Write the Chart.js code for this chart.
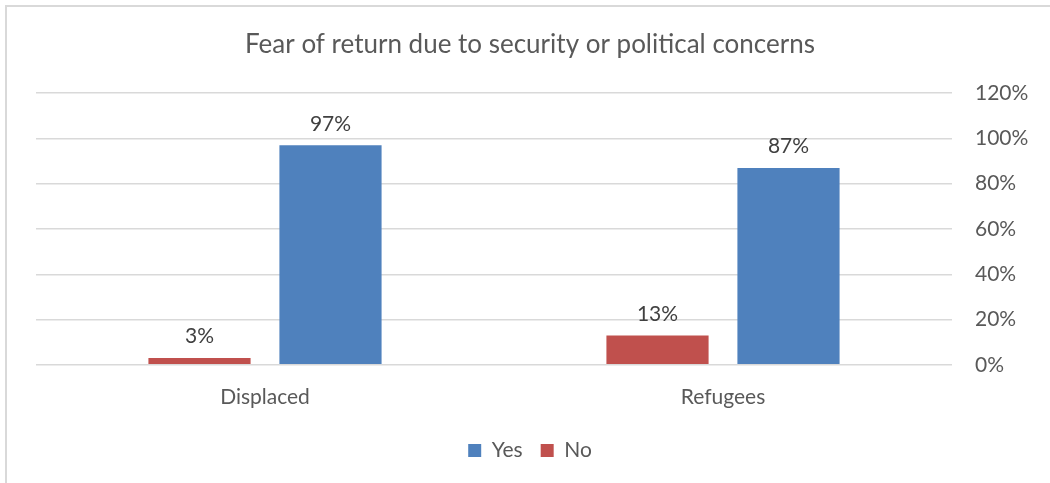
<!DOCTYPE html>
<html>
<head>
<meta charset="utf-8">
<script src="https://cdn.jsdelivr.net/npm/chart.js@4/dist/chart.umd.min.js"></script>
<style>
  html, body { margin: 0; padding: 0; background: #fff; }
  #frame {
    position: absolute; left: 5px; top: 5px;
    width: 1060px; height: 490px;
    border: 2px solid #d9d9d9; box-sizing: border-box;
  }
  #wrap { position: absolute; left: 0; top: 0; width: 1050px; height: 483px; }
</style>
</head>
<body>
<div id="frame"></div>
<div id="wrap"><canvas id="chart" width="1050" height="483"></canvas></div>
<script>
const categories = ["Displaced", "Refugees"];
const noValues = [3, 13];
const yesValues = [97, 87];
const yTicks = [0, 20, 40, 60, 80, 100, 120];

const FONT = "Lato, 'Open Sans', sans-serif";

// writes the percentage above each bar
const valueLabels = {
  id: "valueLabels",
  afterDatasetsDraw(chart) {
    const ctx = chart.ctx;
    ctx.save();
    ctx.font = `21px ${FONT}`;
    ctx.fillStyle = "#404040";
    ctx.textAlign = "center";
    ctx.textBaseline = "bottom";
    chart.data.datasets.forEach((ds, i) => {
      chart.getDatasetMeta(i).data.forEach((bar, j) => {
        ctx.fillText(ds.data[j] + "%", bar.x, bar.y - 11);
      });
    });
    ctx.restore();
  }
};

new Chart(document.getElementById("chart"), {
  type: "bar",
  data: {
    labels: categories,
    datasets: [
      { label: "No", data: noValues, backgroundColor: "#c0504d" },
      { label: "Yes", data: yesValues, backgroundColor: "#4f81bd" },
    ],
  },
  options: {
    responsive: false,
    animation: false,
    events: [],
    categoryPercentage: 0.572,
    barPercentage: 0.78,
    layout: { padding: { left: 10, right: 0, top: 29, bottom: 12 } },
    scales: {
      x: {
        grid: { display: false },
        border: { display: false },
        ticks: { color: "#595959", font: { family: FONT, size: 21 }, padding: 12 },
      },
      y: {
        position: "right",
        min: 0,
        max: 120,
        afterBuildTicks: (axis) => { axis.ticks = yTicks.map(v => ({ value: v })); },
        afterFit: (axis) => { axis.width = 98; },
        grid: { color: "#d9d9d9", lineWidth: 1.5, drawTicks: false },
        border: { display: false },
        ticks: {
          color: "#595959",
          font: { family: FONT, size: 21 },
          padding: 23,
          callback: (v) => v + "%",
        },
      },
      // empty spacer on the left so the plot starts a little inside the frame
      spacer: {
        type: "linear",
        position: "left",
        afterFit: (axis) => { axis.width = 26; },
        grid: { display: false },
        border: { display: false },
        ticks: { display: false },
      },
    },
    plugins: {
      title: {
        display: true,
        text: "Fear of return due to security or political concerns",
        color: "#595959",
        font: { family: FONT, size: 26, weight: "normal" },
        padding: { top: 0, bottom: 33 },
      },
      legend: {
        position: "bottom",
        reverse: true,
        labels: {
          color: "#595959",
          font: { family: FONT, size: 21 },
          boxWidth: 13,
          boxHeight: 13,
          padding: 18,
        },
      },
      tooltip: { enabled: false },
    },
  },
  plugins: [valueLabels],
});
</script>
</body>
</html>
